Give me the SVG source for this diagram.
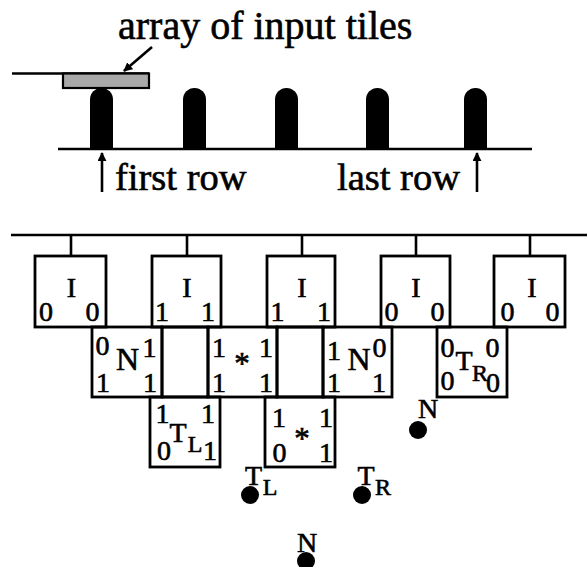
<svg xmlns="http://www.w3.org/2000/svg" width="587" height="567" viewBox="0 0 587 567">
<defs>
<marker id="ah" viewBox="0 0 10 10" refX="9" refY="5" markerWidth="9" markerHeight="9" markerUnits="userSpaceOnUse" orient="auto">
<path d="M0,0 L10,5 L0,10 z" fill="#000"/>
</marker>
<style>
.ln{stroke:#000;stroke-width:2.6;fill:none}
.box{fill:none;stroke:#000;stroke-width:2.8}
.t{font-family:"Liberation Serif","Times New Roman",serif;fill:#000;stroke:#000;stroke-width:0.6}
.d{font-family:"Liberation Serif","Times New Roman",serif;font-size:28px;text-anchor:middle;fill:#000;stroke:#000;stroke-width:0.6}
.big{font-size:32px}
.sub{font-size:24px}
.lbl{font-size:28px}
.ast{font-size:31px}
.dot{fill:#000}
.pil{fill:#000}
</style>
</defs>
<rect width="587" height="567" fill="#fff"/>

<g id="top-section">
<text class="t" x="118" y="39" font-size="40">array of input tiles</text>
<line class="ln" x1="12" y1="73.5" x2="149" y2="73.5"/>
<rect id="input-tiles" x="63" y="73.5" width="86" height="14.5" fill="#a9a9a9" stroke="#000" stroke-width="2.2"/>
<line class="ln" x1="58" y1="149" x2="532" y2="149"/>
<path class="pil" d="M90,149 V99.5 A11.5,11.5 0 0 1 113,99.5 V149 Z"/>
<path class="pil" d="M183,149 V99.5 A11.5,11.5 0 0 1 206,99.5 V149 Z"/>
<path class="pil" d="M275,149 V99.5 A11.5,11.5 0 0 1 298,99.5 V149 Z"/>
<path class="pil" d="M366,149 V99.5 A11.5,11.5 0 0 1 389,99.5 V149 Z"/>
<path class="pil" d="M464,149 V99.5 A11.5,11.5 0 0 1 487,99.5 V149 Z"/>
<text class="t" x="115" y="190" font-size="38.5">first row</text>
<text class="t" x="337" y="190" font-size="38.5">last row</text>
</g>

<g id="connectors">
<line class="ln" x1="152" y1="47" x2="124" y2="71" marker-end="url(#ah)"/>
<line class="ln" x1="102" y1="192" x2="102" y2="153" marker-end="url(#ah)"/>
<line class="ln" x1="477" y1="192" x2="477" y2="153" marker-end="url(#ah)"/>
<line class="ln" x1="11" y1="235" x2="587" y2="235"/>
<line class="ln" x1="71" y1="235" x2="71" y2="256"/>
<line class="ln" x1="187" y1="235" x2="187" y2="256"/>
<line class="ln" x1="302" y1="235" x2="302" y2="256"/>
<line class="ln" x1="416" y1="235" x2="416" y2="256"/>
<line class="ln" x1="530" y1="235" x2="530" y2="256"/>
</g>

<g id="I1"><rect class="box" x="35" y="256" width="71" height="71"/>
<text class="d" x="71.5" y="297">I</text><text class="d" x="46" y="321">0</text><text class="d" x="92.5" y="321">0</text></g>
<g id="I2"><rect class="box" x="152" y="256" width="69" height="71"/>
<text class="d" x="187" y="297">I</text><text class="d" x="162" y="321">1</text><text class="d" x="208" y="321">1</text></g>
<g id="I3"><rect class="box" x="267" y="256" width="68" height="71"/>
<text class="d" x="302" y="297">I</text><text class="d" x="277.5" y="321">1</text><text class="d" x="324" y="321">1</text></g>
<g id="I4"><rect class="box" x="381" y="256" width="69" height="71"/>
<text class="d" x="416" y="297">I</text><text class="d" x="391.5" y="321">0</text><text class="d" x="437.5" y="321">0</text></g>
<g id="I5"><rect class="box" x="494" y="256" width="71" height="71"/>
<text class="d" x="532" y="297">I</text><text class="d" x="507.5" y="321">0</text><text class="d" x="552.5" y="321">0</text></g>

<g id="N1"><rect class="box" x="92" y="327" width="70" height="70"/>
<text class="d" x="102.5" y="355">0</text><text class="d big" x="127.5" y="370">N</text><text class="d" x="149.5" y="357">1</text>
<text class="d" x="103" y="392">1</text><text class="d" x="150" y="392">1</text></g>
<g id="E1"><rect class="box" x="162" y="327" width="46" height="70"/></g>
<g id="S1"><rect class="box" x="208" y="327" width="69" height="70"/>
<text class="d" x="219" y="357">1</text><text class="d" x="266" y="357">1</text><text class="d ast" x="242" y="374">*</text>
<text class="d" x="219" y="392">1</text><text class="d" x="266" y="392">1</text></g>
<g id="E2"><rect class="box" x="277" y="327" width="46" height="70"/></g>
<g id="N2"><rect class="box" x="323" y="327" width="69" height="70"/>
<text class="d" x="334" y="360">1</text><text class="d big" x="359" y="370">N</text><text class="d" x="379.5" y="357">0</text>
<text class="d" x="334" y="392">1</text><text class="d" x="379" y="392">1</text></g>
<g id="TR"><rect class="box" x="437" y="327" width="70" height="70"/>
<text class="d" x="447.5" y="357">0</text><text class="d" x="492.5" y="357">0</text>
<text class="d" x="464" y="370" font-size="29">T</text><text class="d sub" x="480" y="381">R</text>
<text class="d" x="447.5" y="390">0</text><text class="d" x="493" y="392">0</text></g>

<g id="TL"><rect class="box" x="150" y="397" width="70" height="70"/>
<text class="d" x="162.5" y="423">1</text><text class="d" x="208" y="423">1</text>
<text class="d" x="178" y="442" font-size="29">T</text><text class="d sub" x="195" y="452">L</text>
<text class="d" x="164" y="460">0</text><text class="d" x="210" y="460">1</text></g>
<g id="S2"><rect class="box" x="265" y="397" width="70" height="70"/>
<text class="d" x="279" y="427">1</text><text class="d" x="326" y="427">1</text><text class="d ast" x="302" y="449">*</text>
<text class="d" x="279.5" y="462">0</text><text class="d" x="326" y="462">1</text></g>

<g id="dotN1"><circle class="dot" cx="418" cy="430" r="9"/><text class="d lbl" x="428" y="418">N</text></g>
<g id="dotTL"><circle class="dot" cx="250" cy="495" r="9"/><text class="d lbl" x="253.5" y="485">T</text><text class="d sub" x="270" y="495">L</text></g>
<g id="dotTR"><circle class="dot" cx="362" cy="495" r="9"/><text class="d lbl" x="366" y="485">T</text><text class="d sub" x="383" y="495">R</text></g>
<g id="dotN2"><circle class="dot" cx="306" cy="561" r="9"/><text class="d lbl" x="307" y="552">N</text></g>
</svg>
